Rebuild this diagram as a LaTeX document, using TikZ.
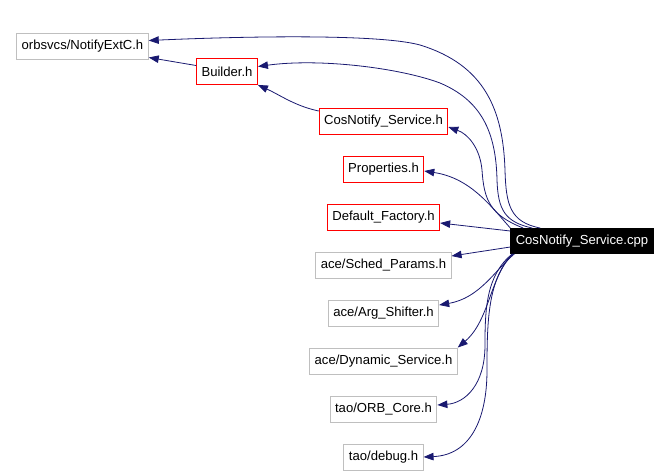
\documentclass[tikz,border=0pt]{standalone}
\usepackage{fontspec}
\setmainfont{Liberation Sans}
\usetikzlibrary{arrows.meta}
\definecolor{edgeBlue}{RGB}{25,25,112}
\definecolor{boxGray}{RGB}{191,191,191}
\tikzstyle{block} = [draw=boxGray,rectangle,fill=white,line width=0.9pt,minimum height=26pt,inner xsep=5pt,font=\fontsize{13.1}{15}\selectfont]
\tikzstyle{redBlock} = [block,draw=red]
\tikzstyle{mainBlock} = [block,draw=black,fill=black,text=white,minimum height=25pt]
\tikzstyle{arrowLine} = [draw=edgeBlue,line width=0.8pt,-{Triangle[length=10pt,width=7.5pt]}]

\begin{document}
\begin{tikzpicture}[x=1pt,y=-1pt,node distance=48pt]
		\useasboundingbox (0,0) rectangle (672,475);
		\node[block] (notifyExtC) at (82.5,46.5) {orbsvcs/NotifyExtC.h};
		\node[redBlock] (builder) at (227,71.5) {Builder.h};
		\node[redBlock] (serviceH) at (383.5,121) {CosNotify\_Service.h};
		\node[redBlock,below of=serviceH] (properties) {Properties.h};
		\node[redBlock,below of=properties] (defaultFactory) {Default\_Factory.h};
		\node[block,below of=defaultFactory] (schedParams) {ace/Sched\_Params.h};
		\node[block,below of=schedParams] (argShifter) {ace/Arg\_Shifter.h};
		\node[block,below of=argShifter] (dynamicService) {ace/Dynamic\_Service.h};
		\node[block,below of=dynamicService] (orbCore) {tao/ORB\_Core.h};
		\node[block,below of=orbCore] (debug) {tao/debug.h};
		\node[mainBlock] (serviceCpp) at (582,241) {CosNotify\_Service.cpp};
		%arrows
		\path[arrowLine] ([xshift=30pt]serviceCpp.north west) .. controls (510,222) and (506,205) .. (505,170)
			.. controls (503,110) and (485,65) .. (420,45) .. controls (380,34) and (250,36) .. ([yshift=6pt]notifyExtC.east);
		\path[arrowLine] ([xshift=22pt]serviceCpp.north west) .. controls (505,222) and (498,210) .. (497,180)
			.. controls (496,130) and (480,100) .. (440,83) .. controls (400,68) and (320,58) .. ([yshift=5pt]builder.east);
		\path[arrowLine] ([xshift=13pt]serviceCpp.north west) .. controls (490,215) and (484,200) .. (482,170)
			.. controls (480,148) and (468,134) .. ([yshift=-6pt]serviceH.east);
		\path[arrowLine] (serviceCpp.north west) .. controls (490,205) and (470,178) .. ([yshift=-2pt]properties.east);
		\path[arrowLine] ([yshift=10pt]serviceCpp.west) -- ([yshift=-6pt]defaultFactory.east);
		\path[arrowLine] ([yshift=-6pt]serviceCpp.west) -- ([yshift=9pt]schedParams.east);
		\path[arrowLine] ([xshift=4pt]serviceCpp.south west) .. controls (495,270) and (480,298) .. ([yshift=8pt]argShifter.east);
		\path[arrowLine] ([xshift=3pt]serviceCpp.south west) .. controls (490,275) and (490,320) .. (dynamicService.north east);
		\path[arrowLine] ([xshift=2pt]serviceCpp.south west) .. controls (486,275) and (485,310) .. (485,345)
			.. controls (485,385) and (465,403) .. ([yshift=4pt]orbCore.east);
		\path[arrowLine] ([xshift=2pt]serviceCpp.south west) .. controls (488,280) and (487,320) .. (487,370)
			.. controls (487,420) and (470,455) .. (debug.east);
		\path[arrowLine] ([yshift=6pt]builder.west) -- ([yshift=-11pt]notifyExtC.east);
		\path[arrowLine] ([yshift=10pt]serviceH.west) .. controls (295,106) and (280,95) .. (builder.south east);
	\end{tikzpicture}
\end{document}
